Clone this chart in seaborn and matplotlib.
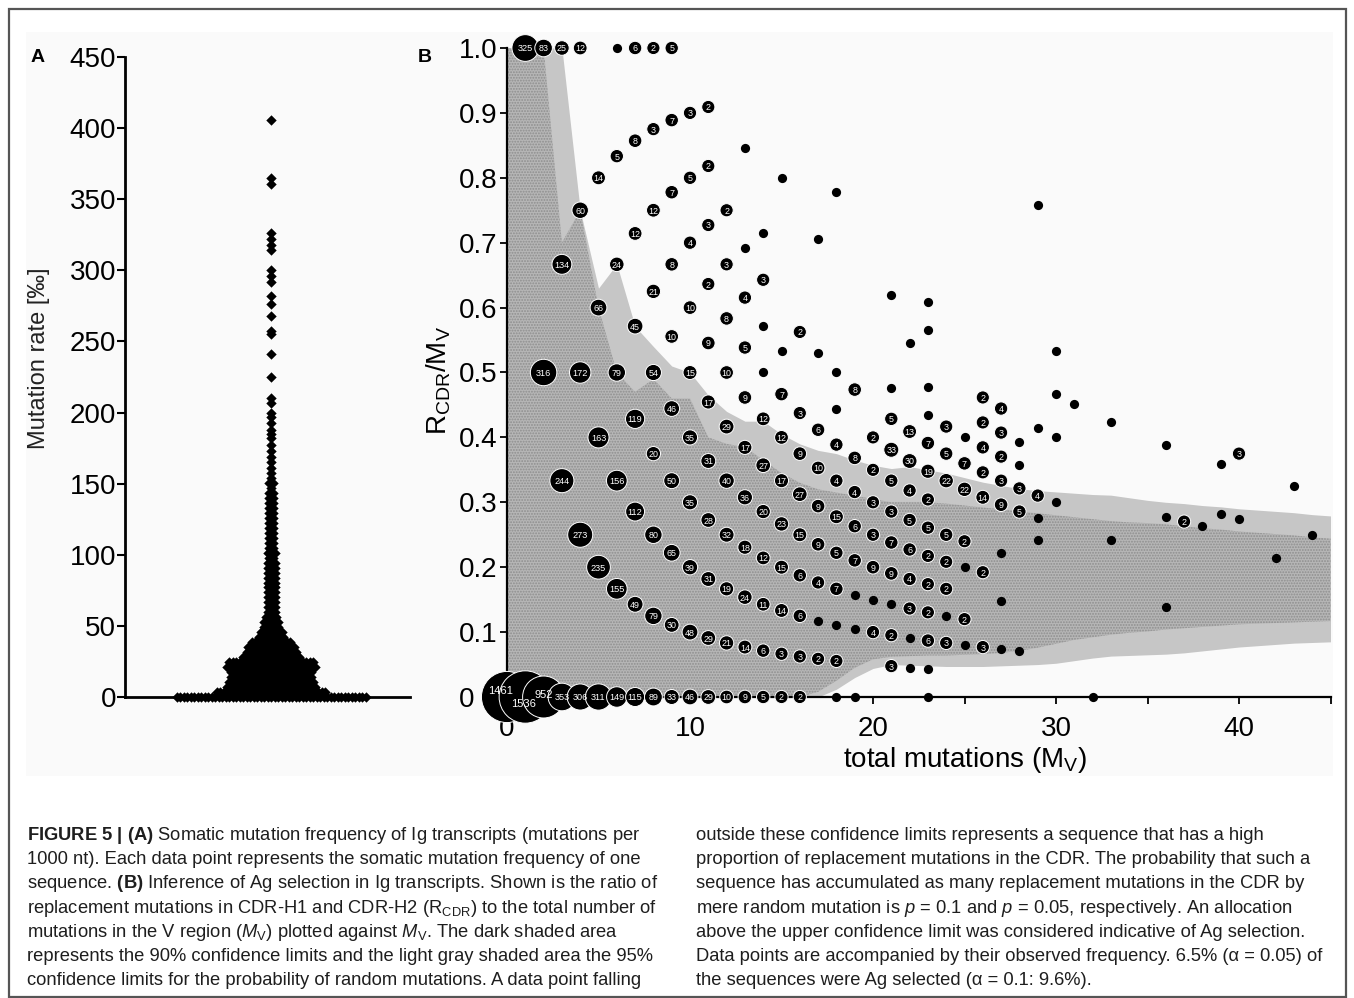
import numpy as np
import pandas as pd
import matplotlib
matplotlib.use("Agg")
import matplotlib.pyplot as plt
import seaborn as sns
from matplotlib.patches import Rectangle

# ---------------- Panel A : mutation rates (per mille) ----------------
rate_levels = [0, 3.5, 7, 10.5, 14, 17.5, 21, 24.5, 28, 31.5, 35, 38.5, 42, 45.5, 49, 52.5,
               56, 59.5, 63, 66.5, 70, 73.5, 77, 80.5, 84, 87.5, 91, 94.5, 98, 101.5, 105,
               108.5, 112, 115.5, 119, 122.5, 126, 129.5, 133, 136.5, 140, 143.5, 147,
               150.5, 154, 157.5]
rate_counts = [55, 32, 26, 25, 24, 24, 26, 25, 17, 15, 14, 12, 8, 7, 5, 5,
               4, 3, 3, 3, 3, 3, 3, 3, 3, 3, 3, 3, 2, 3, 2,
               2, 2, 2, 2, 2, 2, 2, 2, 2, 2, 2, 1,
               2, 1, 1]
rate_outliers = [161, 165, 169, 173, 177, 182, 185, 188, 193, 197, 200, 207, 210, 225,
                 241, 255, 257, 268, 276, 282, 292, 296, 300, 314, 318, 322, 326, 361,
                 365, 406]
a_yticks = [0, 50, 100, 150, 200, 250, 300, 350, 400, 450]

# ---------------- Panel B : R_CDR / M_V ----------------
mv_values = list(range(0, 34)) + [36, 37, 38, 39, 40, 42, 43, 44]
rcdr_by_m = [
    [0],
    [0, 1],
    [0, 1, 2],
    [0, 1, 2, 3],
    [0, 1, 2, 3, 4],
    [0, 1, 2, 3, 4],
    [0, 1, 2, 3, 4, 5, 6],
    [0, 1, 2, 3, 4, 5, 6, 7],
    [0, 1, 2, 3, 4, 5, 6, 7, 8],
    [0, 1, 2, 3, 4, 5, 6, 7, 8, 9],
    [0, 1, 2, 3, 4, 5, 6, 7, 8, 9],
    [0, 1, 2, 3, 4, 5, 6, 7, 8, 9, 10],
    [0, 1, 2, 3, 4, 5, 6, 7, 8, 9],
    [0, 1, 2, 3, 4, 5, 6, 7, 8, 9, 11],
    [0, 1, 2, 3, 4, 5, 6, 7, 8, 9, 10],
    [0, 1, 2, 3, 4, 5, 6, 7, 8, 12],
    [0, 1, 2, 3, 4, 5, 6, 7, 9],
    [1, 2, 3, 4, 5, 6, 7, 9, 12],
    [0, 1, 2, 3, 4, 5, 6, 7, 8, 9, 14],
    [0, 2, 3, 4, 5, 6, 7, 9],
    [2, 3, 4, 5, 6, 7, 8],
    [1, 2, 3, 4, 5, 6, 7, 8, 9, 10, 13],
    [1, 2, 3, 4, 5, 6, 7, 8, 9, 12],
    [0, 1, 2, 3, 4, 5, 6, 7, 8, 9, 10, 11, 13, 14],
    [2, 3, 4, 5, 6, 8, 9, 10],
    [2, 3, 5, 6, 8, 9, 10],
    [2, 5, 8, 9, 10, 11, 12],
    [2, 4, 6, 8, 9, 10, 11, 12],
    [2, 8, 9, 10, 11],
    [7, 8, 9, 12, 22],
    [9, 12, 14, 16],
    [14],
    [0],
    [8, 14],
    [5, 10, 14],
    [10],
    [10],
    [11, 14],
    [11, 15],
    [9],
    [14],
    [11],
]
freq_by_m = [
    [1461],
    [1536, 325],
    [952, 316, 83],
    [353, 244, 134, 25],
    [306, 273, 172, 60, 12],
    [311, 235, 163, 66, 14],
    [149, 155, 156, 79, 24, 5, 1],
    [115, 49, 112, 119, 45, 12, 8, 6],
    [89, 79, 80, 20, 54, 21, 12, 3, 2],
    [33, 30, 65, 50, 46, 10, 8, 7, 7, 5],
    [46, 48, 39, 35, 35, 15, 10, 4, 5, 3],
    [29, 29, 31, 28, 31, 17, 9, 2, 3, 2, 2],
    [10, 21, 19, 32, 40, 29, 10, 8, 3, 2],
    [9, 14, 24, 18, 36, 17, 9, 5, 4, 1, 1],
    [5, 6, 11, 12, 20, 27, 12, 1, 1, 3, 1],
    [2, 3, 14, 15, 23, 17, 12, 7, 1, 1],
    [2, 3, 6, 6, 15, 27, 9, 3, 2],
    [2, 1, 4, 9, 9, 10, 6, 1, 1],
    [1, 2, 1, 7, 5, 15, 4, 4, 1, 1, 1],
    [1, 1, 1, 7, 6, 4, 8, 8],
    [4, 1, 9, 3, 3, 2, 2],
    [3, 2, 1, 9, 7, 3, 5, 33, 5, 1, 1],
    [1, 1, 3, 4, 6, 5, 4, 30, 13, 1],
    [1, 1, 6, 2, 2, 2, 5, 2, 19, 7, 1, 1, 1, 1],
    [3, 1, 2, 2, 5, 22, 5, 3],
    [1, 2, 1, 2, 22, 7, 1],
    [3, 2, 14, 2, 4, 2, 2],
    [1, 1, 1, 9, 3, 2, 3, 4],
    [1, 5, 3, 1, 1],
    [1, 1, 4, 1, 1],
    [1, 1, 1, 1],
    [1],
    [1],
    [1, 1],
    [1, 1, 1],
    [2],
    [1],
    [1, 1],
    [1, 3],
    [1],
    [1],
    [1],
]

# confidence limits (ratio) for M_V = 0..45
ci_m = list(range(0, 46))
ci_up95 = [1.0, 1.0, 1.0, 1.0, 0.75, 0.63, 0.667, 0.571, 0.54, 0.51, 0.50, 0.465, 0.44,
           0.425, 0.425, 0.405, 0.39, 0.38, 0.375, 0.365, 0.357, 0.352, 0.355, 0.35,
           0.345, 0.338, 0.331, 0.326, 0.321, 0.318, 0.316, 0.314, 0.312, 0.311, 0.307,
           0.303, 0.300, 0.298, 0.295, 0.293, 0.290, 0.288, 0.286, 0.284, 0.281, 0.279]
ci_up90 = [1.0, 1.0, 1.0, 0.70, 0.75, 0.60, 0.50, 0.47, 0.49, 0.46, 0.46, 0.40, 0.39,
           0.385, 0.365, 0.345, 0.33, 0.32, 0.315, 0.31, 0.305, 0.30, 0.30, 0.30, 0.298,
           0.295, 0.292, 0.289, 0.286, 0.283, 0.280, 0.277, 0.274, 0.271, 0.269, 0.268,
           0.266, 0.263, 0.260, 0.258, 0.255, 0.253, 0.251, 0.249, 0.246, 0.244]
ci_lo90 = [0, 0, 0, 0, 0, 0, 0, 0, 0, 0, 0, 0, 0, 0, 0, 0, 0, 0.008, 0.025, 0.045,
           0.058, 0.062, 0.063, 0.064, 0.064, 0.065, 0.066, 0.068, 0.071, 0.076, 0.082,
           0.088, 0.092, 0.096, 0.099, 0.101, 0.104, 0.106, 0.108, 0.110, 0.112, 0.113,
           0.114, 0.115, 0.116, 0.117]
ci_lo95 = [0, 0, 0, 0, 0, 0, 0, 0, 0, 0, 0, 0, 0, 0, 0, 0, 0, 0, 0.012, 0.03, 0.044,
           0.05, 0.049, 0.048, 0.047, 0.047, 0.047, 0.048, 0.049, 0.05, 0.052, 0.056,
           0.06, 0.063, 0.064, 0.065, 0.066, 0.068, 0.071, 0.074, 0.077, 0.079, 0.081,
           0.083, 0.084, 0.085]

b_yticks = [0, 0.1, 0.2, 0.3, 0.4, 0.5, 0.6, 0.7, 0.8, 0.9, 1.0]
b_yticklabels = ["0", "0.1", "0.2", "0.3", "0.4", "0.5", "0.6", "0.7", "0.8", "0.9", "1.0"]
b_xticks = [0, 10, 20, 30, 40]
b_xminor = [5, 15, 25, 35, 45]

caption_left = [
    r"$\mathbf{FIGURE\ 5\ |\ (A)}$ Somatic mutation frequency of Ig transcripts (mutations per",
    "1000 nt). Each data point represents the somatic mutation frequency of one",
    r"sequence. $\mathbf{(B)}$ Inference of Ag selection in Ig transcripts. Shown is the ratio of",
    r"replacement mutations in CDR-H1 and CDR-H2 (R$_{\mathregular{CDR}}$) to the total number of",
    r"mutations in the V region ($\mathit{M}_{\mathregular{V}}$) plotted against $\mathit{M}_{\mathregular{V}}$. The dark shaded area",
    "represents the 90% confidence limits and the light gray shaded area the 95%",
    "confidence limits for the probability of random mutations. A data point falling",
]
caption_right = [
    "outside these confidence limits represents a sequence that has a high",
    "proportion of replacement mutations in the CDR. The probability that such a",
    "sequence has accumulated as many replacement mutations in the CDR by",
    r"mere random mutation is $\mathit{p}$ = 0.1 and $\mathit{p}$ = 0.05, respectively. An allocation",
    "above the upper confidence limit was considered indicative of Ag selection.",
    "Data points are accompanied by their observed frequency. 6.5% (\u03b1 = 0.05) of",
    "the sequences were Ag selected (\u03b1 = 0.1: 9.6%).",
]

# ---------------- style ----------------
sns.set_theme(style="white")
plt.rcParams["font.family"] = ["Liberation Sans", "DejaVu Sans"]
plt.rcParams["mathtext.fontset"] = "custom"
plt.rcParams["mathtext.rm"] = "Liberation Sans"
plt.rcParams["mathtext.it"] = "Liberation Sans:italic"
plt.rcParams["mathtext.bf"] = "Liberation Sans:bold"
plt.rcParams["text.color"] = "black"
plt.rcParams["axes.labelcolor"] = "black"
plt.rcParams["xtick.color"] = "black"
plt.rcParams["ytick.color"] = "black"
plt.rcParams["hatch.linewidth"] = 0.9

W, H = 1354, 998
fig = plt.figure(figsize=(W / 100, H / 100), dpi=100, facecolor="white")


def px_rect(x0, y0, x1, y1):
    return [x0 / W, 1 - y1 / H, (x1 - x0) / W, (y1 - y0) / H]


# background frame (behind everything)
fig.patches.append(Rectangle((26 / W, 1 - 776 / H), (1333 - 26) / W, (776 - 32) / H,
                             transform=fig.transFigure, facecolor="#fafafa",
                             edgecolor="none", zorder=-10))
fig.patches.append(Rectangle((8.5 / W, 1 - 997 / H), (1346 - 8.5) / W, (997 - 9) / H,
                             transform=fig.transFigure, fill=False,
                             edgecolor="#555555", linewidth=1.6, zorder=-9))

# ---------------- Panel A ----------------
axA = fig.add_axes(px_rect(125, 57, 410, 697))
axA.set_facecolor("none")
dx = 3.5
xs, ys = [], []
for v, n in zip(rate_levels, rate_counts):
    off = (np.arange(n) - (n - 1) / 2.0) * dx
    xs.extend(off.tolist())
    ys.extend([v] * n)
for v in rate_outliers:
    xs.append(0.0)
    ys.append(v)
sns.scatterplot(x=xs, y=ys, marker="D", s=28, color="black", linewidth=0,
                ax=axA, clip_on=False, zorder=3, legend=False)
axA.set_xlim(-146, 139)
axA.set_ylim(0, 450)
axA.set_yticks(a_yticks)
axA.set_yticklabels([str(t) for t in a_yticks])
axA.set_xticks([])
for s in ["top", "right"]:
    axA.spines[s].set_visible(False)
for s in ["left", "bottom"]:
    axA.spines[s].set_color("black")
    axA.spines[s].set_linewidth(2.0)
axA.tick_params(axis="y", left=True, direction="out", length=5.5, width=1.5,
                labelsize=20, pad=1)
axA.set_ylabel("Mutation rate [\u2030]", fontsize=17, color="#222222")
axA.yaxis.set_label_coords(-0.262, 0.53)
axA.set_xlabel("")

# ---------------- Panel B ----------------
axB = fig.add_axes(px_rect(507, 48, 1330.5, 697))
axB.set_facecolor("none")
axB.fill_between(ci_m, ci_lo95, ci_up95, color="#c6c6c6", linewidth=0, zorder=0.5)
axB.fill_between(ci_m, ci_lo90, ci_up90, facecolor="#b6b6b6", edgecolor="#8e8e8e",
                 hatch="......", linewidth=0, zorder=0.6)

rows = []
for m, rs, ns in zip(mv_values, rcdr_by_m, freq_by_m):
    for r, n in zip(rs, ns):
        rows.append((m, r, n, (r / m) if m else 0.0))
df = pd.DataFrame(rows, columns=["M", "R", "n", "ratio"])
single = df[df["n"] == 1]
multi = df[df["n"] > 1]

sns.scatterplot(data=single, x="M", y="ratio", s=44, color="black", linewidth=0,
                ax=axB, clip_on=False, zorder=3, legend=False)
sns.scatterplot(data=multi, x="M", y="ratio", size="n", sizes=(90, 1420),
                size_norm=(2, 1536), color="black", edgecolor="white",
                linewidth=0.7, ax=axB, clip_on=False, zorder=3, legend=False)

label_offsets = {1461: (-5, 5), 1536: (-1, -4), 952: (0, 2)}
for _, row in multi.iterrows():
    n = int(row["n"])
    fs = 8 if n >= 900 else (6.6 if n >= 100 else 6.4)
    off = label_offsets.get(n, (0, 0))
    axB.annotate(str(n), (row["M"], row["ratio"]), xytext=off,
                 textcoords="offset points", ha="center", va="center_baseline",
                 color="white", fontsize=fs, zorder=5, annotation_clip=False)

axB.set_xlim(0, 45)
axB.set_ylim(0, 1)
axB.set_yticks(b_yticks)
axB.set_yticklabels(b_yticklabels, ha="left")
axB.set_xticks(b_xticks)
axB.set_xticklabels([str(t) for t in b_xticks])
axB.set_xticks(b_xminor, minor=True)
for s in ["top", "right"]:
    axB.spines[s].set_visible(False)
for s in ["left", "bottom"]:
    axB.spines[s].set_color("black")
    axB.spines[s].set_linewidth(1.6)
axB.tick_params(axis="y", left=True, direction="out", length=5, width=1.3,
                labelsize=20, pad=30)
axB.tick_params(axis="x", which="both", bottom=True, direction="out", length=5,
                width=1.3, labelsize=20, pad=9)
axB.set_xlabel(r"total mutations (M$_{\mathregular{V}}$)", fontsize=20)
axB.xaxis.set_label_coords((965 - 507) / 823.5, (697 - 745) / 649)
axB.set_ylabel(r"R$_{\mathregular{CDR}}$/M$_{\mathregular{V}}$", fontsize=20)
axB.yaxis.set_label_coords((453 - 507) / 823.5, (697 - 380) / 649)

# panel letters
fig.text(38 / W, 1 - 57 / H, "A", fontsize=14, fontweight="bold", ha="center", va="center")
fig.text(425 / W, 1 - 57 / H, "B", fontsize=14, fontweight="bold", ha="center", va="center")

# ---------------- caption ----------------
cap_color = "#1e1e1e"
base0 = 840
pitch = 24.2
texts_l, texts_r = [], []
for i, line in enumerate(caption_left):
    texts_l.append(fig.text(27 / W, 1 - (base0 + pitch * i) / H, line, fontsize=12,
                            ha="left", va="baseline", color=cap_color))
for i, line in enumerate(caption_right):
    texts_r.append(fig.text(696 / W, 1 - (base0 + pitch * i) / H, line, fontsize=12,
                            ha="left", va="baseline", color=cap_color))
fig.canvas.draw()
rend = fig.canvas.get_renderer()
wl = max(t.get_window_extent(rend).width for t in texts_l)
wr = max(t.get_window_extent(rend).width for t in texts_r)
scale = min(628 / wl, 634 / wr)
for t in texts_l + texts_r:
    t.set_fontsize(12 * scale)

fig.savefig("out.png", dpi=100, facecolor="white")
